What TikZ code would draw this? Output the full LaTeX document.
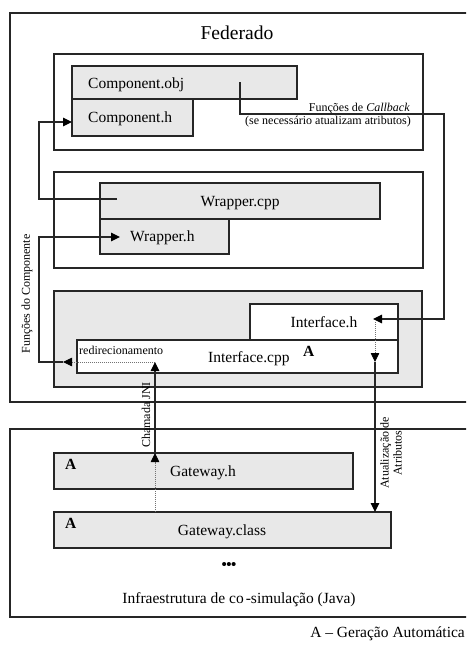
\documentclass[tikz,border=0pt]{standalone}
\usepackage{fontspec}
\setmainfont{Liberation Serif}
\usetikzlibrary{arrows.meta}
\begin{document}
\begin{tikzpicture}[x=1pt,y=-1pt,
  frame/.style={draw=black!85, line width=1.1pt, inner sep=0pt, outer sep=0pt, anchor=north west},
  file/.style={frame, fill=black!9},
  lbl/.style={inner sep=0pt, font=\fontsize{15.5}{18}\selectfont},
  note/.style={inner sep=0pt, font=\fontsize{12}{13}\selectfont},
  wire/.style={draw=black!85, line width=1.1pt},
  tip/.style={-{Triangle[length=9pt,width=8.5pt,black]}},
  faint/.style={draw=black!55, line width=0.8pt, dash pattern=on 1pt off 1pt},
]
\useasboundingbox (0,0) rectangle (466,645);
\clip (0,0) rectangle (466,645);

% --- Federado ---------------------------------------------------------
\node[frame, minimum width=460pt, minimum height=389pt] (fed) at (10,13) {};
\node[inner sep=0pt, anchor=base, font=\fontsize{19.6}{22}\selectfont] (tfed) at (237,39) {Federado};

% component panel
\node[frame, minimum width=369pt, minimum height=96pt] (pcomp) at (54,54) {};
\node[file, minimum width=225pt, minimum height=33pt] (cobj) at (72,66) {};
\node[file, minimum width=121pt, minimum height=37pt] (ch) at (72,99) {};
\node[lbl, anchor=base west] (tcobj) at (88,88) {Component.obj};
\node[lbl, anchor=base west] (tch) at (88,122.5) {Component.h};

% wrapper panel
\node[frame, minimum width=369pt, minimum height=96pt] (pwrap) at (54,172) {};
\node[file, minimum width=280pt, minimum height=36pt] (wcpp) at (100,183) {};
\node[file, minimum width=129pt, minimum height=35pt] (wh) at (100,219) {};
\node[lbl, anchor=base] (twcpp) at (240,206) {Wrapper.cpp};
\node[lbl, anchor=base west] (twh) at (130,241.5) {Wrapper.h};

% interface panel
\node[file, minimum width=368pt, minimum height=96pt] (pint) at (54,291) {};
\node[frame, fill=white, minimum width=148pt, minimum height=36pt] (ih) at (250,304) {};
\node[frame, fill=white, minimum width=321pt, minimum height=33pt] (icpp) at (77,340) {};
\node[lbl, anchor=base] (tih) at (324,327) {Interface.h};
\node[lbl, anchor=base west] (ticpp) at (208,362) {Interface.cpp};
\node[lbl, anchor=base west, font=\fontsize{15.5}{18}\selectfont\bfseries] (aicpp) at (303,356) {A};
\node[note, anchor=base west] (tredir) at (79,354) {redirecionamento};

% --- co-simulation infrastructure -------------------------------------
\node[frame, minimum width=460pt, minimum height=188pt] (infra) at (10,429) {};
\node[file, minimum width=299pt, minimum height=36pt] (gh) at (54,453) {};
\node[file, minimum width=337pt, minimum height=36pt] (gc) at (54,512) {};
\node[lbl, anchor=base] (tgh) at (203,476) {Gateway.h};
\node[lbl, anchor=base] (tgc) at (222,535) {Gateway.class};
\node[lbl, anchor=base west, font=\fontsize{15.5}{18}\selectfont\bfseries] (agh) at (65,469) {A};
\node[lbl, anchor=base west, font=\fontsize{15.5}{18}\selectfont\bfseries] (agc) at (65,528) {A};
\node[inner sep=0pt, font=\fontsize{15}{16}\selectfont\bfseries] (more) at (229,566) {•\kern-0.6pt•\kern-0.6pt•};
\node[lbl, anchor=base] (tinfra) at (239,603) {Infraestrutura de co\kern2pt-simulação (Java)};

\node[lbl, anchor=base east] (legend) at (465,637) {A – Geração Automática};

% --- connector labels ---------------------------------------------------
\node[note, anchor=base east] (tcb1) at (410,111) {Funções de \textit{Callback}};
\node[note, anchor=base east] (tcb2) at (411,124) {(se necessário atualizam atributos)};
\node[note, rotate=90] (tfc) at (27,294) {Funções do Componente};
\node[note, rotate=90] (tjni) at (146,415) {Chamada JNI};
\node[note, rotate=90, align=center] (tatt) at (391,453) {Atualização de\\Atributos};

% --- connector end points ----------------------------------------------
\coordinate (cbs) at (240,82);
\coordinate (cbc) at (444,114);
\coordinate (ihin) at (373,319);
\coordinate (wcs) at (117,199);
\coordinate (bendA) at (39,122);
\coordinate (chin) at (72,122);
\coordinate (rds) at (155,362);
\coordinate (rdt) at (63,362);
\coordinate (bendB) at (39,237);
\coordinate (whin) at (120,237);
\coordinate (gcs) at (155,512);
\coordinate (ghs) at (155,453);
\coordinate (ihd) at (375,322);
\coordinate (ict) at (375,362);
\coordinate (gct) at (375,512);

% callbacks: Component.obj -> Interface.h
\draw[wire, tip] (cbs) |- (cbc) |- (ihin);
% component functions: Wrapper.cpp -> Component.h
\draw[wire, tip] (wcs) -| (bendA) -- (chin);
% redirection: Interface.cpp -> Wrapper.h
\draw[faint, tip] (rds) -- (rdt);
\draw[wire, tip] (rdt) -| (bendB) -- (whin);
% JNI call: Gateway.class -> Gateway.h -> Interface.cpp
\draw[faint, tip] (gcs) -- (ghs);
\draw[wire, tip] (ghs) -- (rds);
% attribute update: Interface.h -> Interface.cpp -> Gateway.class
\draw[faint, tip] (ihd) -- (ict);
\draw[wire, tip] (ict) -- (gct);
\end{tikzpicture}
\end{document}
